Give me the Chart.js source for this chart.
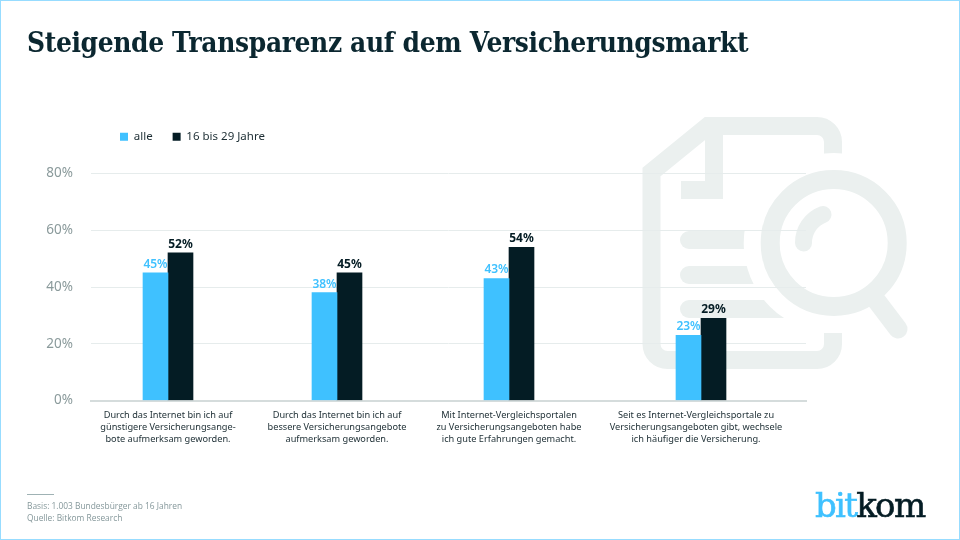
<!DOCTYPE html>
<html lang="de">
<head>
<meta charset="utf-8">
<script src="https://cdn.jsdelivr.net/npm/chart.js@4"></script>
<style>
  html, body { margin: 0; padding: 0; background: #fff; }
  #page { position: relative; width: 960px; height: 540px; overflow: hidden; background: #fff; }
  #page > * { position: absolute; }
  #frame { left: 0; top: 0; width: 958px; height: 538px; border: 1px solid #97dcff; }
  #icon { left: 0; top: 0; }
  #chartBox { left: 0; top: 0; width: 960px; height: 540px; }
  h1 { left: 27px; top: 27px; margin: 0; font: bold 27px "DejaVu Serif", serif; letter-spacing: -0.4px; color: #0b2730; white-space: nowrap; transform-origin: left top; transform: scaleX(0.927); }
  #rule { left: 27px; top: 494px; width: 27px; height: 1px; background: #9fb2b4; }
  #note { left: 27px; top: 500px; font: 8.4px/11.5px "Open Sans", sans-serif; color: #84979a; white-space: nowrap; }
  #logo { left: 815px; top: 484px; font: 34px/42px "DejaVu Serif", serif; letter-spacing: -1.7px; color: #041c24; white-space: nowrap; -webkit-text-stroke: 0.6px; }
  #logo span { color: #3fc1ff; }
</style>
</head>
<body>
<div id="page">
  <svg id="icon" width="960" height="540" fill="none" stroke="#ebf0ef" stroke-width="18">
    <path d="M833 155 V142 a16 16 0 0 0 -16 -16 H708 L651.5 172 V344 a16 16 0 0 0 16 16 H817 a16 16 0 0 0 16 -16 V333"/>
    <path d="M714 126 V190 H681"/>
    <g stroke-linecap="round">
      <path d="M689 240 H790"/>
      <path d="M689 275 H790"/>
      <path d="M689 309 H790"/>
    </g>
    <circle cx="833.7" cy="243" r="90" fill="#fff" stroke="none"/>
    <circle cx="833.7" cy="243" r="63.5" stroke-width="19"/>
    <path d="M803.5 243 A30 30 0 0 1 823 214.5" stroke-width="17" stroke-linecap="round"/>
    <path d="M873 296 L898 329" stroke-width="19" stroke-linecap="round"/>
  </svg>
  <div id="chartBox"><canvas id="chart" width="960" height="540"></canvas></div>
  <h1>Steigende Transparenz auf dem Versicherungsmarkt</h1>
  <div id="rule"></div>
  <div id="note">Basis: 1.003 Bundesbürger ab 16 Jahren<br>Quelle: Bitkom Research</div>
  <div id="logo"><span>bit</span>kom</div>
  <div id="frame"></div>
</div>
<script>
const categories = [
  ["Durch das Internet bin ich auf", "günstigere Versicherungsange-", "bote aufmerksam geworden."],
  ["Durch das Internet bin ich auf", "bessere Versicherungsangebote", "aufmerksam geworden."],
  ["Mit Internet-Vergleichsportalen", "zu Versicherungsangeboten habe", "ich gute Erfahrungen gemacht."],
  ["Seit es Internet-Vergleichsportale zu", "Versicherungsangeboten gibt, wechsele", "ich häufiger die Versicherung."]
];
const seriesNames = ["alle", "16 bis 29 Jahre"];
const alle = [45, 38, 43, 23];
const jung = [52, 45, 54, 29];
const yTicks = [0, 20, 40, 60, 80];

// the groups are not evenly spaced in the original, so x is a linear scale in page pixels
const groupX = [168, 337, 509, 701];
const labelX = [168, 337, 509, 696];

const BLUE = "#3fc1ff";
const DARK = "#041c24";

// value labels above the bars
const valueLabels = {
  id: "valueLabels",
  afterDatasetsDraw(chart) {
    const ctx = chart.ctx;
    ctx.save();
    ctx.textAlign = "center";
    ctx.textBaseline = "alphabetic";
    chart.data.datasets.forEach((ds, i) => {
      ctx.fillStyle = ds.backgroundColor;
      ctx.font = (i === 0 ? "600" : "bold") + " 12px 'Noto Sans', sans-serif";
      chart.getDatasetMeta(i).data.forEach((bar, j) => {
        ctx.fillText(ds.data[j].y + "%", bar.x, bar.y - 5);
      });
    });
    ctx.restore();
  }
};

// legend sits further right and higher than the layout would put it
const moveLegend = {
  id: "moveLegend",
  afterLayout(chart) {
    chart.legend.left = 100;
    chart.legend.top = 111;
  }
};

new Chart(document.getElementById("chart"), {
  type: "bar",
  data: {
    datasets: [
      { label: seriesNames[0], data: alle.map((v, i) => ({ x: groupX[i], y: v })), backgroundColor: BLUE },
      { label: seriesNames[1], data: jung.map((v, i) => ({ x: groupX[i], y: v })), backgroundColor: DARK }
    ]
  },
  options: {
    responsive: false,
    animation: false,
    layout: { padding: { left: 0, right: 154, top: 132, bottom: 79.5 } },
    barThickness: 25,
    plugins: {
      tooltip: { enabled: false },
      legend: {
        position: "top",
        align: "start",
        fullSize: false,
        labels: {
          boxWidth: 8,
          boxHeight: 8,
          padding: 20,
          color: "#1c2d33",
          font: { family: "'Noto Sans', sans-serif", size: 11.5 }
        }
      }
    },
    scales: {
      x: {
        type: "linear",
        offset: false,
        min: 91,
        max: 806,
        afterBuildTicks(scale) { scale.ticks = labelX.map((v) => ({ value: v })); },
        afterFit(scale) { scale.height = 60; },
        grid: { display: false },
        border: { color: "#d5dcdc", width: 2 },
        ticks: {
          autoSkip: false,
          maxRotation: 0,
          padding: 1,
          color: "#1c2d33",
          font: { family: "'Noto Sans', sans-serif", size: 9.2, lineHeight: 1.3 },
          callback: (v) => categories[labelX.indexOf(v)]
        }
      },
      y: {
        min: 0,
        max: 80,
        afterBuildTicks(scale) { scale.ticks = yTicks.map((v) => ({ value: v })); },
        afterFit(scale) { scale.width = 91; },
        border: { display: false },
        grid: { color: "#e6ecec", lineWidth: 1, drawTicks: false },
        ticks: {
          padding: 18,
          color: "#8a9a9b",
          font: { family: "'Noto Sans', sans-serif", size: 13.5 },
          callback: (v) => v + "%"
        }
      }
    }
  },
  plugins: [valueLabels, moveLegend]
});
</script>
</body>
</html>
